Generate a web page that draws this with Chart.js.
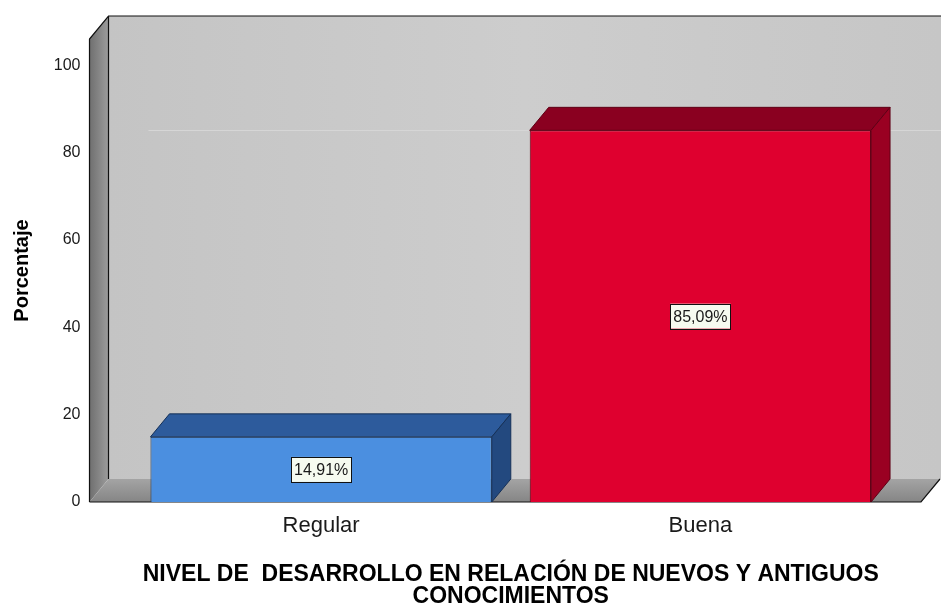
<!DOCTYPE html>
<html>
<head>
<meta charset="utf-8">
<script src="https://cdn.jsdelivr.net/npm/chart.js@4/dist/chart.umd.min.js"></script>
<style>
  html, body { margin: 0; padding: 0; background: #fff; }
  #wrap { width: 941px; height: 605px; }
</style>
</head>
<body>
<div id="wrap"><canvas id="chart"></canvas></div>
<script>
// datos
const categorias = ['Regular', 'Buena'];
const porcentajes = [14.91, 85.09];
const etiquetas = ['14,91%', '85,09%'];
const ticksY = [0, 20, 40, 60, 80, 100];

const colFrente = ['#4b8fe0', '#df002f'];
const colArriba = ['#2d5b9c', '#8a0020'];
const colLado = ['#23497f', '#9a0022'];
const colBorde = ['#163158', '#5e0015'];

// profundidad 3D
const DX = 19, DY = -23;
const FUENTE = '"Liberation Sans", Arial, sans-serif';

const caja3d = {
  id: 'caja3d',
  beforeDatasetsDraw(chart) {
    const ctx = chart.ctx;
    const a = chart.chartArea;
    const y = chart.scales.y;
    const xL = a.left - 42, xR = a.right + 31;
    const yT = a.top, y0 = y.getPixelForValue(0);
    ctx.save();
    // pared de fondo
    let g = ctx.createLinearGradient(xL + DX, 0, xR + DX, 0);
    g.addColorStop(0, '#c4c4c4');
    g.addColorStop(0.5, '#cdcdcd');
    g.addColorStop(1, '#c6c6c6');
    ctx.fillStyle = g;
    ctx.fillRect(xL + DX, yT + DY, xR - xL + 20, y0 - yT);
    // linea de rejilla tenue
    ctx.strokeStyle = '#d6d6d6';
    ctx.lineWidth = 1;
    ctx.beginPath();
    const y80 = Math.round(y.getPixelForValue(80) + DY) + 0.5;
    ctx.moveTo(xL + DX + 40, y80);
    ctx.lineTo(xR + DX + 20, y80);
    ctx.stroke();
    // pared izquierda
    g = ctx.createLinearGradient(xL, 0, xL + DX, 0);
    g.addColorStop(0, '#6f6f6f');
    g.addColorStop(1, '#9c9c9c');
    ctx.fillStyle = g;
    ctx.beginPath();
    ctx.moveTo(xL, yT);
    ctx.lineTo(xL + DX, yT + DY);
    ctx.lineTo(xL + DX, y0 + DY);
    ctx.lineTo(xL, y0);
    ctx.closePath();
    ctx.fill();
    // suelo
    g = ctx.createLinearGradient(0, y0 + DY, 0, y0);
    g.addColorStop(0, '#a4a4a4');
    g.addColorStop(1, '#858585');
    ctx.fillStyle = g;
    ctx.beginPath();
    ctx.moveTo(xL, y0);
    ctx.lineTo(xL + DX, y0 + DY);
    ctx.lineTo(xR + DX, y0 + DY);
    ctx.lineTo(xR, y0);
    ctx.closePath();
    ctx.fill();
    // bordes
    ctx.strokeStyle = '#111';
    ctx.lineWidth = 1.2;
    ctx.beginPath();
    ctx.moveTo(xL, y0);
    ctx.lineTo(xL, yT);
    ctx.lineTo(xL + DX, yT + DY);
    ctx.lineTo(xR + DX + 20, yT + DY);
    ctx.moveTo(xL + DX, yT + DY);
    ctx.lineTo(xL + DX, y0 + DY);
    ctx.moveTo(xL, y0);
    ctx.lineTo(xR, y0);
    ctx.lineTo(xR + DX, y0 + DY);
    ctx.stroke();
    ctx.restore();
  },
  afterDatasetsDraw(chart) {
    const ctx = chart.ctx;
    const meta = chart.getDatasetMeta(0);
    ctx.save();
    meta.data.forEach((bar, i) => {
      const l = bar.x - bar.width / 2, r = bar.x + bar.width / 2;
      const t = bar.y, b = bar.base;
      ctx.lineWidth = 1;
      ctx.strokeStyle = colBorde[i];
      // cara superior
      ctx.fillStyle = colArriba[i];
      ctx.beginPath();
      ctx.moveTo(l, t);
      ctx.lineTo(l + DX, t + DY);
      ctx.lineTo(r + DX, t + DY);
      ctx.lineTo(r, t);
      ctx.closePath();
      ctx.fill();
      ctx.stroke();
      // cara lateral
      ctx.fillStyle = colLado[i];
      ctx.beginPath();
      ctx.moveTo(r, t);
      ctx.lineTo(r + DX, t + DY);
      ctx.lineTo(r + DX, b + DY);
      ctx.lineTo(r, b);
      ctx.closePath();
      ctx.fill();
      ctx.stroke();
      // etiqueta
      ctx.font = '16px ' + FUENTE;
      const txt = etiquetas[i];
      const w = ctx.measureText(txt).width + 6, h = 25;
      const cy = (t + b) / 2;
      ctx.fillStyle = '#f6fbf0';
      ctx.fillRect(bar.x - w / 2, cy - h / 2, w, h);
      ctx.strokeStyle = '#111';
      ctx.lineWidth = 1;
      ctx.strokeRect(Math.round(bar.x - w / 2) + 0.5, Math.round(cy - h / 2) + 0.5, Math.round(w), h);
      ctx.fillStyle = '#1a1a1a';
      ctx.textAlign = 'center';
      ctx.textBaseline = 'middle';
      ctx.fillText(txt, bar.x, cy + 1);
    });
    ctx.restore();
  }
};

new Chart(document.getElementById('chart'), {
  type: 'bar',
  data: {
    labels: categorias,
    datasets: [{
      data: porcentajes,
      backgroundColor: colFrente,
      borderColor: colBorde,
      borderWidth: 1,
      barPercentage: 0.9,
      categoryPercentage: 1
    }]
  },
  options: {
    responsive: true,
    maintainAspectRatio: false,
    animation: false,
    layout: { padding: { top: 39, right: 51, left: 0, bottom: 0 } },
    plugins: {
      legend: { display: false },
      tooltip: { enabled: false }
    },
    scales: {
      x: {
        grid: { display: false },
        border: { display: false },
        afterFit(s) { s.height = 103; },
        ticks: {
          padding: 3,
          color: '#1a1a1a',
          font: { family: FUENTE, size: 22 }
        },
        title: {
          display: true,
          text: ['NIVEL DE  DESARROLLO EN RELACIÓN DE NUEVOS Y ANTIGUOS', 'CONOCIMIENTOS'],
          color: '#000',
          padding: { top: 0, bottom: -3 },
          font: { family: FUENTE, size: 23, weight: 'bold', lineHeight: 0.96 }
        }
      },
      y: {
        min: 0,
        max: 106,
        grid: { display: false, drawTicks: true, tickLength: 46, tickColor: 'rgba(0,0,0,0)' },
        border: { display: false },
        afterFit(s) { s.width = 131.5; },
        afterBuildTicks(s) { s.ticks = ticksY.map(v => ({ value: v })); },
        ticks: {
          padding: 5,
          color: '#1a1a1a',
          font: { family: FUENTE, size: 16 }
        },
        title: {
          display: true,
          text: 'Porcentaje',
          color: '#000',
          padding: { top: 10, bottom: 0 },
          font: { family: FUENTE, size: 20, weight: 'bold' }
        }
      }
    }
  },
  plugins: [caja3d]
});
</script>
</body>
</html>
